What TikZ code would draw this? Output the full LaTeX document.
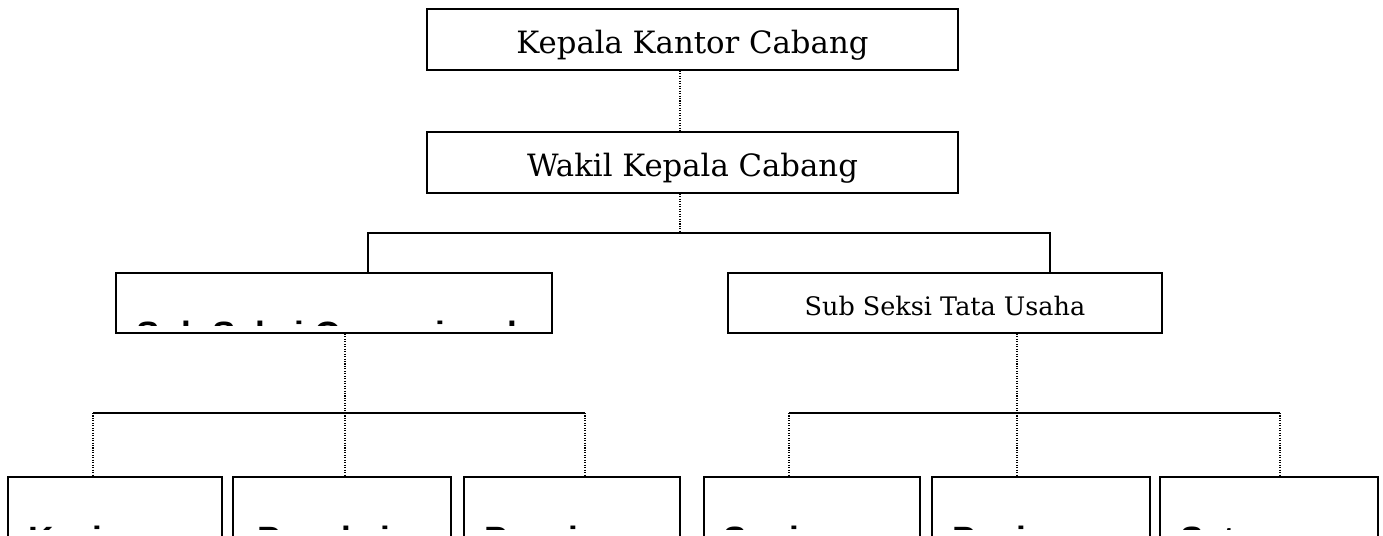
\documentclass[tikz,border=0pt]{standalone}
\usepackage{fontspec}
\setmainfont{DejaVu Serif}
\newfontfamily\lsans{Liberation Sans}
\begin{document}
\begin{tikzpicture}[x=0.02cm,y=-0.02cm,
  box/.style={draw, line width=1.1pt, inner sep=0pt, rectangle},
  conn/.style={line width=1pt},
  dots/.style={line width=0.6pt, dash pattern=on 0.6pt off 0.8pt},
  ttl/.style={font=\fontsize{17.5}{20}\selectfont, text height=16pt, text depth=0pt},
  ttls/.style={font=\fontsize{14.5}{18}\selectfont, text height=14pt, text depth=0pt},
  cut/.style={font=\lsans\bfseries\fontsize{20}{24}\selectfont, anchor=base west, inner sep=0pt}]
\clip (0,0) rectangle (1383,535);
\fill[white] (0,0) rectangle (1383,535);
% boxes
\node[box, ttl, minimum width=10.62cm, minimum height=1.22cm] (kk) at (692.5,39.5) {Kepala Kantor Cabang};
\node[box, ttl, minimum width=10.62cm, minimum height=1.22cm] (wk) at (692.5,162.5) {Wakil Kepala Cabang};
\node[box, minimum width=8.72cm, minimum height=1.2cm] (so) at (334,303) {};
\node[box, ttls, minimum width=8.68cm, minimum height=1.2cm] (tu) at (945,303) {Sub Seksi Tata Usaha};
\node[box, minimum width=4.28cm, minimum height=2.46cm] (b1) at (115,538.5) {};
\node[box, minimum width=4.36cm, minimum height=2.46cm] (b2) at (342,538.5) {};
\node[box, minimum width=4.32cm, minimum height=2.46cm] (b3) at (572,538.5) {};
\node[box, minimum width=4.32cm, minimum height=2.46cm] (b4) at (812,538.5) {};
\node[box, minimum width=4.36cm, minimum height=2.46cm] (b5) at (1041,538.5) {};
\node[box, minimum width=4.36cm, minimum height=2.46cm] (b6) at (1269,538.5) {};
% clipped texts
\begin{scope}
\path[clip] (116,273) rectangle (552,325);
\node[cut] (t0) at (136,346) {Sub Seksi Operasional};
\end{scope}
\begin{scope}
\path[clip] (0,477) rectangle (1383,529);
\node[cut] (t1) at (28,551) {Kasir};
\node[cut] (t2) at (257,551) {Penaksir};
\node[cut] (t3) at (484,551) {Penyimpan};
\node[cut] (t4) at (723,551) {Sopir};
\node[cut] (t5) at (952,551) {Penjaga};
\node[cut] (t6) at (1180,551) {Satpam};
\end{scope}
% connector coordinates
\coordinate (bus) at (680,233);
\coordinate (busL) at (368,233);
\coordinate (busR) at (1050,233);
\coordinate (lb) at (345,413);
\coordinate (lbL) at (93,413);
\coordinate (lbR) at (585,413);
\coordinate (rb) at (1017,413);
\coordinate (rbL) at (789,413);
\coordinate (rbR) at (1280,413);
% connectors
\draw[dots] (kk.south -| bus) -- (wk.north -| bus);
\draw[dots] (wk.south -| bus) -- (bus);
\draw[conn] (so.north -| busL) -- (busL) -- (busR) -- (tu.north -| busR);
\draw[dots] (so.south -| lb) -- (lb);
\draw[conn] (lbL) -- (lbR);
\draw[dots] (lbL) -- (b1.north -| lbL);
\draw[dots] (lb) -- (b2.north -| lb);
\draw[dots] (lbR) -- (b3.north -| lbR);
\draw[dots] (tu.south -| rb) -- (rb);
\draw[conn] (rbL) -- (rbR);
\draw[dots] (rbL) -- (b4.north -| rbL);
\draw[dots] (rb) -- (b5.north -| rb);
\draw[dots] (rbR) -- (b6.north -| rbR);
\end{tikzpicture}
\end{document}
